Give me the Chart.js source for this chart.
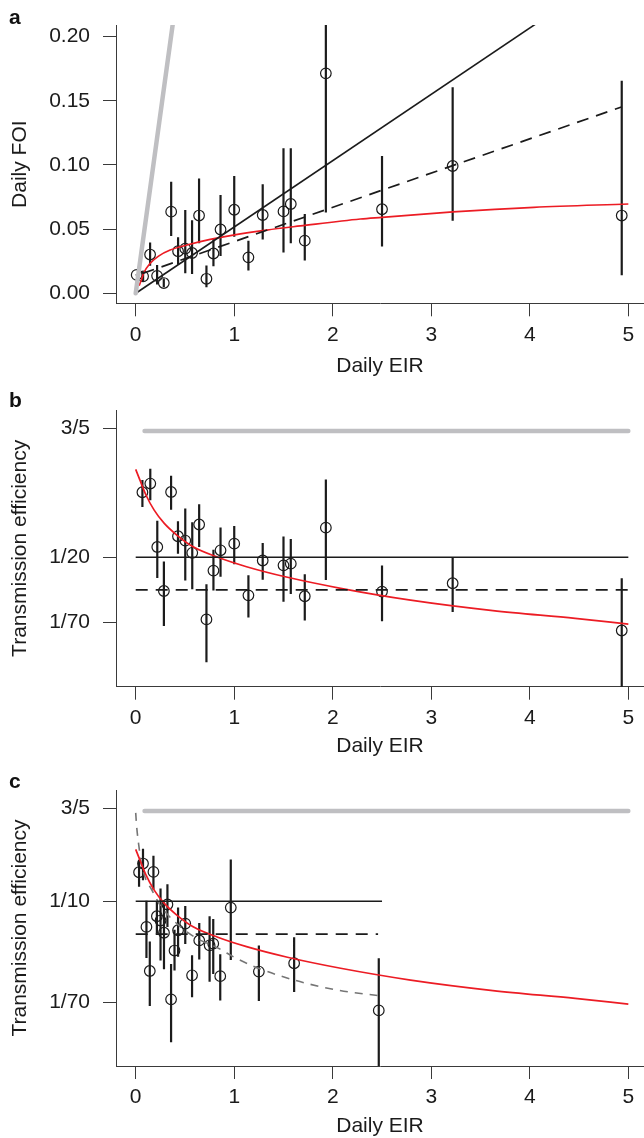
<!doctype html>
<html lang="en">
<head>
<meta charset="utf-8" />
<title>Daily FOI and transmission efficiency vs daily EIR</title>
<script src="https://cdn.jsdelivr.net/npm/chart.js"></script>
<style>
  html, body { margin: 0; padding: 0; background: #fff; }
  body { width: 644px; height: 1138px; position: relative; overflow: hidden; }
  .panel { position: absolute; left: 0; width: 644px; }
  .panel canvas { display: block; }
  .tag { position: absolute; left: 9px; font: bold 21px/21px "Liberation Sans", Arial, sans-serif; color: #111; }
</style>
</head>
<body>
  <div class="panel" style="top:0;height:380px"><canvas id="chartA" width="644" height="380"></canvas></div>
  <div class="panel" style="top:380px;height:380px"><canvas id="chartB" width="644" height="380"></canvas></div>
  <div class="panel" style="top:760px;height:380px"><canvas id="chartC" width="644" height="380"></canvas></div>
  <div class="tag" style="top:6px">a</div>
  <div class="tag" style="top:389px">b</div>
  <div class="tag" style="top:770px">c</div>

<script>
// ---- shared axis ticks
const xTicks = [0, 1, 2, 3, 4, 5];
const aTicks = [0, 0.05, 0.1, 0.15, 0.2];
const aTickLabels = ["0.00", "0.05", "0.10", "0.15", "0.20"];
const bTicks = [1 / 70, 1 / 20, 3 / 5];
const bTickLabels = ["1/70", "1/20", "3/5"];
const cTicks = [1 / 70, 1 / 10, 3 / 5];
const cTickLabels = ["1/70", "1/10", "3/5"];

// ---- panel a: daily FOI vs daily EIR
const aEir = [0.01, 0.075, 0.146, 0.217, 0.285, 0.36, 0.43, 0.503, 0.572, 0.643, 0.718, 0.789, 0.861, 1.0, 1.144, 1.289, 1.5, 1.574, 1.716, 1.93, 2.5, 3.217, 4.933];
const aFoi = [0.0143, 0.0132, 0.0302, 0.0136, 0.0080, 0.0636, 0.0328, 0.0348, 0.0314, 0.0606, 0.0113, 0.0310, 0.0497, 0.0651, 0.0280, 0.0610, 0.0638, 0.0696, 0.0410, 0.1714, 0.0655, 0.0992, 0.0606];
const aLow = [0.0138, 0.0095, 0.0215, 0.0068, 0.0048, 0.0447, 0.0222, 0.0156, 0.0150, 0.0390, 0.0047, 0.0210, 0.0290, 0.0440, 0.0177, 0.0420, 0.0317, 0.0390, 0.0255, 0.0629, 0.0364, 0.0566, 0.0140];
const aHigh = [0.0148, 0.0170, 0.0395, 0.0220, 0.0115, 0.0870, 0.0436, 0.0650, 0.0570, 0.0894, 0.0216, 0.0430, 0.0766, 0.0914, 0.0410, 0.0850, 0.1130, 0.1130, 0.0618, 0.2500, 0.1070, 0.1605, 0.1657];
const aGreyLine = [{ x: 0, y: 0 }, { x: 0.38, y: 0.212 }];
const aSolidLine = [{ x: 0.02, y: 0.001 }, { x: 5, y: 0.2585 }];
const aDashedLine = [{ x: 0.07, y: 0.0155 }, { x: 4.93, y: 0.1452 }];
const aRedX = [0.035, 0.06, 0.08, 0.147, 0.232, 0.35, 0.52, 0.756, 0.99, 1.33, 1.67, 2.28, 2.5, 3.22, 4.04, 5];
const aRedY = [0.006, 0.011, 0.0156, 0.0234, 0.029, 0.0337, 0.0376, 0.042, 0.0454, 0.0493, 0.0525, 0.0579, 0.0592, 0.0634, 0.067, 0.0696];

// ---- panel b: transmission efficiency vs daily EIR
const bEir = [0.068, 0.148, 0.219, 0.286, 0.359, 0.429, 0.503, 0.574, 0.644, 0.718, 0.789, 0.861, 1.0, 1.144, 1.289, 1.5, 1.574, 1.716, 1.93, 2.5, 3.217, 4.933];
const bEff = [0.175, 0.207, 0.0610, 0.0261, 0.176, 0.0750, 0.0690, 0.0545, 0.0940, 0.0151, 0.0387, 0.0572, 0.0650, 0.0240, 0.0470, 0.0428, 0.0442, 0.0236, 0.0885, 0.0258, 0.0303, 0.0122];
const bLow = [0.132, 0.150, 0.0335, 0.0133, 0.125, 0.0536, 0.0320, 0.0270, 0.0610, 0.0066, 0.0264, 0.0344, 0.0438, 0.0157, 0.0325, 0.0212, 0.0246, 0.0148, 0.0322, 0.0146, 0.0174, 0.002];
const bHigh = [0.222, 0.275, 0.101, 0.046, 0.240, 0.100, 0.128, 0.098, 0.139, 0.0298, 0.0577, 0.0889, 0.0912, 0.0353, 0.0657, 0.0748, 0.0712, 0.0360, 0.224, 0.0426, 0.0500, 0.0334];
const bGreyLine = [{ x: 0.09, y: 0.57 }, { x: 5, y: 0.57 }];
const bSolidLine = [{ x: 0, y: 0.05 }, { x: 5, y: 0.05 }];
const bDashedLine = [{ x: 0, y: 0.0267 }, { x: 5, y: 0.0267 }];
const redEffX = [0, 0.042, 0.104, 0.1875, 0.29, 0.417, 0.583, 0.833, 1.125, 1.54, 2.08, 2.79, 3.625, 4.46, 5];
const redEffY = [0.272, 0.222, 0.166, 0.124, 0.096, 0.0767, 0.0612, 0.05, 0.0417, 0.034, 0.0275, 0.0219, 0.0179, 0.0154, 0.0138];

// ---- panel c: transmission efficiency vs daily EIR (second EIR estimate)
const cEir = [0.034, 0.074, 0.109, 0.143, 0.18, 0.215, 0.252, 0.287, 0.322, 0.359, 0.394, 0.43, 0.503, 0.572, 0.645, 0.75, 0.787, 0.858, 0.965, 1.25, 1.608, 2.467];
const cEff = [0.175, 0.207, 0.0610, 0.0261, 0.176, 0.0750, 0.0690, 0.0545, 0.0940, 0.0151, 0.0387, 0.0572, 0.0650, 0.0240, 0.0470, 0.0428, 0.0442, 0.0236, 0.0885, 0.0258, 0.0303, 0.0122];
const cLow = [0.132, 0.150, 0.0335, 0.0133, 0.125, 0.0536, 0.0320, 0.0270, 0.0610, 0.0066, 0.0264, 0.0344, 0.0438, 0.0157, 0.0325, 0.0212, 0.0246, 0.0148, 0.0322, 0.0146, 0.0174, 0.002];
const cHigh = [0.222, 0.275, 0.101, 0.046, 0.240, 0.100, 0.128, 0.098, 0.139, 0.0298, 0.0577, 0.0889, 0.0912, 0.0353, 0.0657, 0.0748, 0.0712, 0.0360, 0.224, 0.0426, 0.0500, 0.0334];
const cGreyLine = [{ x: 0.09, y: 0.57 }, { x: 5, y: 0.57 }];
const cSolidLine = [{ x: 0, y: 0.1 }, { x: 2.5, y: 0.1 }];
const cDashedLine = [{ x: 0, y: 0.053 }, { x: 2.46, y: 0.053 }];
const cGreyDashX = [0, 0.01, 0.03, 0.06, 0.1, 0.16, 0.25, 0.4, 0.6, 0.85, 1.0, 1.2, 1.6, 2.04, 2.5];
const cGreyDashY = [0.55, 0.42, 0.3, 0.2, 0.155, 0.126, 0.092, 0.067, 0.05, 0.04, 0.034, 0.0285, 0.022, 0.0181, 0.0161];

// ---- styling
const FONT = '"Liberation Sans", Arial, Helvetica, sans-serif';
const INK = "#1b1b1b";
const AXIS = "#3a3a3a";
const RED = "#ec1c24";
const GREY = "#bfbfc2";

Chart.defaults.font.family = FONT;
Chart.defaults.font.size = 21;
Chart.defaults.color = INK;

const pts = (xs, ys) => xs.map((x, i) => ({ x, y: ys[i] }));

function errorBars(xs, lo, hi) {
  const out = [];
  xs.forEach((x, i) => {
    out.push({ x, y: lo[i] }, { x, y: hi[i] }, { x, y: null });
  });
  return out;
}

function line(data, color, width, extra = {}) {
  return Object.assign({
    data, showLine: true, borderColor: color, borderWidth: width,
    pointRadius: 0, fill: false, spanGaps: false
  }, extra);
}

function pointsDs(data) {
  return {
    data, showLine: false, pointRadius: 5.3, pointBorderWidth: 1.2,
    pointBorderColor: INK, pointBackgroundColor: "rgba(0,0,0,0)"
  };
}

// the plot box is placed by hand, so drop the label overhang padding
function noOverhang(s) {
  s.paddingLeft = 0; s.paddingRight = 0; s.paddingTop = 0; s.paddingBottom = 0;
}

function xScale(height, titlePad) {
  return {
    type: "linear", min: -0.2, max: 5.159,
    afterFit: (s) => { s.height = height; noOverhang(s); },
    afterBuildTicks: (s) => { s.ticks = xTicks.map((v) => ({ value: v })); },
    ticks: { padding: 6, color: INK, maxRotation: 0, autoSkip: false, callback: (v) => String(v) },
    grid: { drawOnChartArea: false, drawTicks: true, tickLength: 13, color: AXIS, lineWidth: 1 },
    border: { display: true, color: AXIS, width: 1 },
    title: { display: true, text: "Daily EIR", color: INK, padding: { top: 0, bottom: titlePad } }
  };
}

function yScale(type, min, max, ticks, labels, title) {
  return {
    type, min, max,
    afterFit: (s) => { s.width = 116; noOverhang(s); },
    afterBuildTicks: (s) => { s.ticks = ticks.map((v) => ({ value: v })); },
    ticks: { padding: 13, color: INK, autoSkip: false, callback: (v, i) => labels[i] },
    grid: { drawOnChartArea: false, drawTicks: true, tickLength: 13, color: AXIS, lineWidth: 1 },
    border: { display: true, color: AXIS, width: 1 },
    title: { display: true, text: title, color: INK, padding: { top: 8, bottom: 0 } }
  };
}

function makeChart(id, datasets, x, y, top) {
  return new Chart(document.getElementById(id), {
    type: "scatter",
    data: { datasets },
    options: {
      responsive: false,
      animation: false,
      devicePixelRatio: 1,
      layout: { autoPadding: false, padding: { top, left: 0, right: 0, bottom: 0 } },
      plugins: { legend: { display: false }, tooltip: { enabled: false } },
      scales: { x, y }
    }
  });
}

// panel a
makeChart("chartA", [
  line(aGreyLine, GREY, 4.5, { borderCapStyle: "round" }),
  line(aSolidLine, INK, 1.6),
  line(aDashedLine, INK, 1.7, { borderDash: [12, 8] }),
  line(pts(aRedX, aRedY), RED, 1.7, { cubicInterpolationMode: "monotone" }),
  line(errorBars(aEir, aLow, aHigh), INK, 2.2),
  pointsDs(pts(aEir, aFoi))
], xScale(76.7, 0.7), yScale("linear", -0.0078, 0.2091, aTicks, aTickLabels, "Daily FOI"), 25);

// panel b
makeChart("chartB", [
  line(bGreyLine, GREY, 4.5, { borderCapStyle: "round" }),
  line(bSolidLine, INK, 1.6),
  line(bDashedLine, INK, 1.7, { borderDash: [12, 8] }),
  line(pts(redEffX, redEffY), RED, 1.7, { cubicInterpolationMode: "monotone" }),
  line(errorBars(bEir, bLow, bHigh), INK, 2.2),
  pointsDs(pts(bEir, bEff))
], xScale(73.3, 1.4), yScale("logarithmic", 0.00413, 0.854, bTicks, bTickLabels, "Transmission efficiency"), 30);

// panel c
makeChart("chartC", [
  line(cGreyLine, GREY, 4.5, { borderCapStyle: "round" }),
  line(cSolidLine, INK, 1.6),
  line(cDashedLine, INK, 1.7, { borderDash: [12, 8] }),
  line(pts(redEffX, redEffY), RED, 1.7, { cubicInterpolationMode: "monotone" }),
  line(pts(cGreyDashX, cGreyDashY), "#757575", 1.6, { borderDash: [8, 7], cubicInterpolationMode: "monotone" }),
  line(errorBars(cEir, cLow, cHigh), INK, 2.2),
  pointsDs(pts(cEir, cEff))
], xScale(74, 0.7), yScale("logarithmic", 0.00418, 0.854, cTicks, cTickLabels, "Transmission efficiency"), 30);
</script>
</body>
</html>
